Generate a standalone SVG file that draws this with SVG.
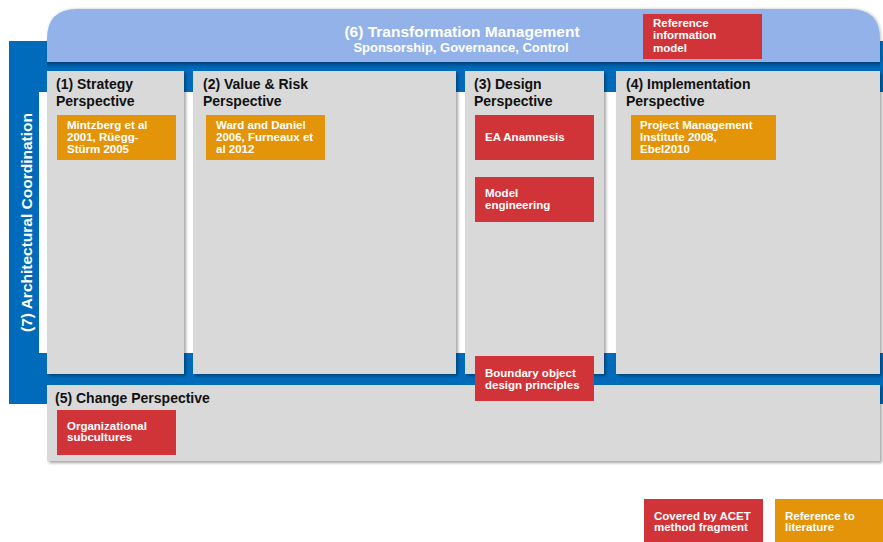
<svg xmlns="http://www.w3.org/2000/svg" width="883" height="542" viewBox="0 0 883 542">
<style>
  text { font-family: "Liberation Sans", Arial, sans-serif; font-weight: bold; }
  .panel { fill: #D9D9D9; }
  .head { font-size: 14px; fill: #111111; }
  .red { fill: #D13438; }
  .orange { fill: #E39409; }
  .btxt { font-size: 11.5px; fill: #FFFFFF; }
</style>
<defs>
  <filter id="sh" x="-5%" y="-5%" width="115%" height="115%">
    <feDropShadow dx="2" dy="2" stdDeviation="1.5" flood-color="#000000" flood-opacity="0.35"/>
  </filter>
  <filter id="shTop" x="-5%" y="-30%" width="110%" height="160%">
    <feDropShadow dx="1" dy="0" stdDeviation="1.5" flood-color="#000000" flood-opacity="0.25"/>
  </filter>
  <linearGradient id="dark" x1="0" y1="0" x2="0" y2="1">
    <stop offset="0" stop-color="#003F73"/>
    <stop offset="1" stop-color="#006BBA" stop-opacity="0"/>
  </linearGradient>
</defs>

<g id="background">
  <rect x="9" y="41" width="874" height="363" fill="#006BBA"/>
  <rect x="39" y="92" width="844" height="261" fill="#FFFFFF"/>
</g>

<g id="transformation-management">
  <path d="M47,62 L47,39 Q47,9 77,9 L850,9 Q880,9 880,39 L880,62 Z" fill="#93B2EA" filter="url(#shTop)"/>
  <rect x="47" y="62" width="833" height="8" fill="url(#dark)"/>
  <text x="462" y="37" text-anchor="middle" font-size="15.5" fill="#FFFFFF">(6) Transformation Management</text>
  <text x="461" y="52" text-anchor="middle" font-size="13" fill="#FFFFFF">Sponsorship, Governance, Control</text>
</g>

<g id="architectural-coordination">
  <text transform="translate(31.5,222.5) rotate(-90)" text-anchor="middle" font-size="15.5" fill="#FFFFFF">(7) Architectural Coordination</text>
</g>

<g id="strategy-perspective">
  <rect class="panel" x="47" y="71" width="137" height="303" filter="url(#sh)"/>
  <text class="head" x="56" y="89">(1) Strategy</text>
  <text class="head" x="56" y="106">Perspective</text>
</g>

<g id="value-risk-perspective">
  <rect class="panel" x="193" y="71" width="263" height="303" filter="url(#sh)"/>
  <text class="head" x="203" y="89">(2) Value &amp; Risk</text>
  <text class="head" x="203" y="106">Perspective</text>
</g>

<g id="design-perspective">
  <rect class="panel" x="465" y="71" width="139" height="303" filter="url(#sh)"/>
  <text class="head" x="474" y="89">(3) Design</text>
  <text class="head" x="474" y="106">Perspective</text>
</g>

<g id="implementation-perspective">
  <rect class="panel" x="616" y="71" width="264" height="303" filter="url(#sh)"/>
  <text class="head" x="626" y="89">(4) Implementation</text>
  <text class="head" x="626" y="106">Perspective</text>
</g>

<g id="change-perspective">
  <rect class="panel" x="47" y="385" width="833" height="76" filter="url(#sh)"/>
  <text class="head" x="55" y="403">(5) Change Perspective</text>
</g>

<g id="mintzberg">
  <rect class="orange" x="57" y="115" width="119" height="45"/>
  <text class="btxt" x="67" y="128.5">Mintzberg et al</text>
  <text class="btxt" x="67" y="140.5">2001, Rüegg-</text>
  <text class="btxt" x="67" y="153">Stürm 2005</text>
</g>

<g id="ward-daniel">
  <rect class="orange" x="206" y="115" width="119" height="45"/>
  <text class="btxt" x="216" y="128.5">Ward and Daniel</text>
  <text class="btxt" x="216" y="140.5">2006, Furneaux et</text>
  <text class="btxt" x="216" y="153">al 2012</text>
</g>

<g id="ea-anamnesis">
  <rect class="red" x="475" y="115" width="119" height="45"/>
  <text class="btxt" x="485" y="141">EA Anamnesis</text>
</g>

<g id="model-engineering">
  <rect class="red" x="475" y="177" width="119" height="45"/>
  <text class="btxt" x="485" y="197">Model</text>
  <text class="btxt" x="485" y="208.5">engineering</text>
</g>

<g id="boundary-object">
  <rect class="red" x="475" y="356" width="119" height="45"/>
  <text class="btxt" x="485" y="377">Boundary object</text>
  <text class="btxt" x="485" y="389">design principles</text>
</g>

<g id="project-management">
  <rect class="orange" x="631" y="115" width="145" height="45"/>
  <text class="btxt" x="640" y="128.5">Project Management</text>
  <text class="btxt" x="640" y="140.5">Institute 2008,</text>
  <text class="btxt" x="640" y="153">Ebel2010</text>
</g>

<g id="organizational-subcultures">
  <rect class="red" x="57" y="410" width="119" height="45"/>
  <text class="btxt" x="67" y="429.5">Organizational</text>
  <text class="btxt" x="67" y="441">subcultures</text>
</g>

<g id="reference-information-model">
  <rect class="red" x="643" y="14" width="119" height="45"/>
  <text class="btxt" x="653" y="27">Reference</text>
  <text class="btxt" x="653" y="38.5">information</text>
  <text class="btxt" x="653" y="51.5">model</text>
</g>

<g id="legend-acet">
  <rect class="red" x="644" y="499" width="119" height="43"/>
  <text class="btxt" x="654" y="519.5">Covered by ACET</text>
  <text class="btxt" x="654" y="531">method fragment</text>
</g>

<g id="legend-literature">
  <rect class="orange" x="775" y="499" width="108" height="43"/>
  <text class="btxt" x="785" y="519.5">Reference to</text>
  <text class="btxt" x="785" y="531">literature</text>
</g>
</svg>
